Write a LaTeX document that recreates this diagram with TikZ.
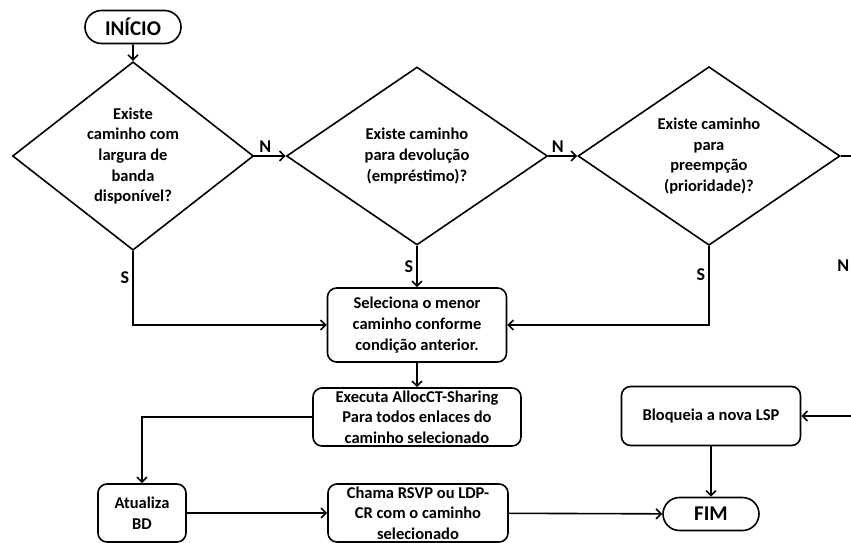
\documentclass[tikz,border=0pt]{standalone}
\usepackage{fontspec}
\setmainfont{Carlito}
\usetikzlibrary{shapes.geometric,shapes.misc,arrows.meta}

\begin{document}
\begin{tikzpicture}[x=1pt,y=-1pt,line width=1.6pt,
  seta/.style={-{Straight Barb[length=5pt,width=10pt]}},
  texto/.style={font=\fontsize{16.5}{20.6}\selectfont\bfseries,align=center,inner sep=0pt},
  term/.style={draw,rounded rectangle,font=\fontsize{21}{25}\selectfont\bfseries,
    minimum width=96pt,minimum height=33pt,inner sep=0pt},
  decisao/.style={draw,diamond,texto},
  caixa/.style={draw,rounded corners=9pt,texto},
  rotulo/.style={font=\fontsize{18}{20}\selectfont\bfseries,inner sep=3pt}]
\clip (0,0) rectangle (851,543);
%%% inicio e as tres perguntas
\node[term] (inicio) at (133,27) {INÍCIO};
\node[decisao,minimum width=241pt,minimum height=166pt] (d1) at (133,156)
{Existe\\caminho com\\largura de\\banda\\disponível?};
\node[decisao,minimum width=261pt,minimum height=178pt] (d2) at (417,156)
{Existe caminho\\para devolução\\(empréstimo)?};
\node[decisao,minimum width=262pt,minimum height=178pt] (d3) at (709,156)
{Existe caminho\\para\\preempção\\(prioridade)?};
%%% caixas de processo
\node[caixa,minimum width=179pt,minimum height=74pt] (sel) at (417,325)
{Seleciona o menor\\caminho conforme\\condição anterior.};
\node[caixa,minimum width=208pt,minimum height=58pt] (exe) at (417,417)
{Executa AllocCT-Sharing\\Para todos enlaces do\\caminho selecionado};
\node[caixa,minimum width=88pt,minimum height=58pt] (atu) at (142,513)
{Atualiza\\BD};
\node[caixa,minimum width=180pt,minimum height=58pt] (cha) at (418,513)
{Chama RSVP ou LDP-\\CR com o caminho\\selecionado};
\node[caixa,minimum width=179pt,minimum height=59pt] (bloq) at (711,416)
{Bloqueia a nova LSP};
\node[term] (fim) at (711,514) {FIM};
\coordinate (volta) at (855,156);
%%% ligacoes
\draw[seta] (inicio) -- (d1);
\draw[seta] (d1.east) -- node[rotulo,above,pos=0.35] {N} (d2.west);
\draw[seta] (d2.east) -- node[rotulo,above,pos=0.33] {N} (d3.west);
\draw[seta] (d1.south) |- node[rotulo,left,pos=0.18] {S} (sel.west);
\draw[seta] (d2.south) -- node[rotulo,left] {S} (sel.north);
\draw[seta] (d3.south) |- node[rotulo,left,pos=0.18] {S} (sel.east);
\draw[seta] (d3.east) -- (volta) |- node[rotulo,left,inner sep=5pt,pos=0.21] {N} (bloq.east);
\draw[seta] (sel) -- (exe);
\draw[seta] (exe.west) -| (atu.north);
\draw[seta] (atu) -- (cha);
\draw[seta] (cha) -- (fim);
\draw[seta] (bloq) -- (fim);
\end{tikzpicture}
\end{document}
